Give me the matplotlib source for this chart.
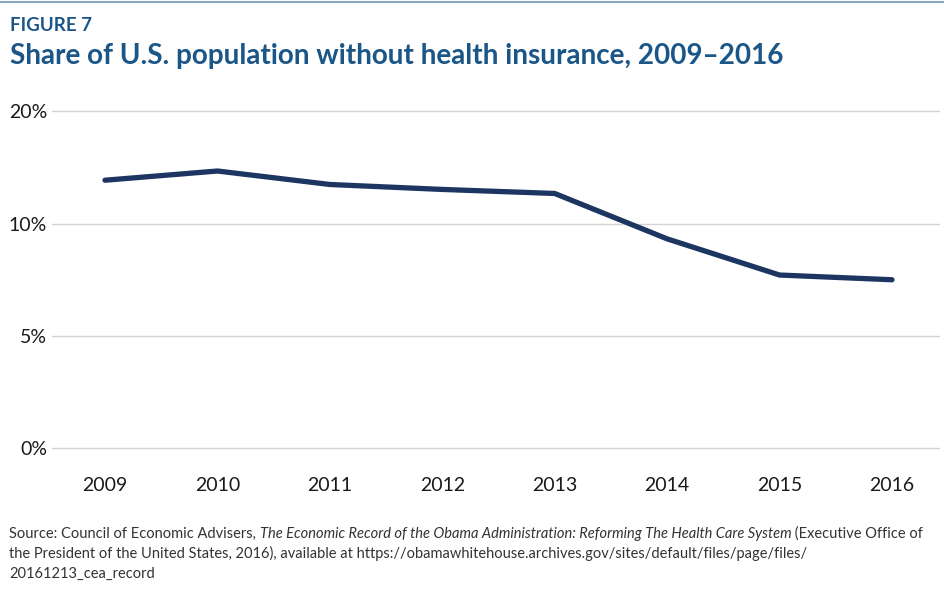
import matplotlib
matplotlib.use("Agg")
import matplotlib.pyplot as plt
from matplotlib.lines import Line2D

years = [2009, 2010, 2011, 2012, 2013, 2014, 2015, 2016]
uninsured = [11.93, 12.34, 11.74, 11.52, 11.34, 9.32, 7.71, 7.50]
ytick_pos = [0, 5, 10, 15]
ytick_labels = ["0%", "5%", "10%", "20%"]

# source note, split into (text, italic) runs per line
source_lines = [
    [("Source: Council of Economic Advisers, ", False),
     ("The Economic Record of the Obama Administration: Reforming The Health Care System", True),
     (" (Executive Office of", False)],
    [("the President of the United States, 2016), available at "
      "https://obamawhitehouse.archives.gov/sites/default/files/page/files/", False)],
    [("20161213_cea_record", False)],
]

title_blue = "#1b5688"
line_navy = "#1d3561"

plt.rcParams["font.family"] = ["Lato", "DejaVu Sans"]

fig = plt.figure(figsize=(9.44, 5.97), dpi=100)

# thin rule along the top edge
fig.add_artist(Line2D([0, 1], [0.9965, 0.9965], transform=fig.transFigure,
                      color="#8aa9c2", linewidth=1.5))

fig.text(10 / 944, 1 - 30.7 / 597, "FIGURE 7", color=title_blue, fontsize=13.5,
         fontweight="bold", va="baseline", ha="left")
fig.text(10 / 944, 1 - 64 / 597,
         "Share of U.S. population without health insurance, 2009\u20132016",
         color=title_blue, fontsize=20.1, fontweight="bold", va="baseline", ha="left")

# axes: bottom/top gridlines at 448 and 111 px, x from 52 to 940 px
ax = fig.add_axes([52 / 944, 1 - 455.0 / 597, 888 / 944, 350.5 / 597])
ax.plot(years, uninsured, color=line_navy, linewidth=3.8,
        solid_capstyle="round", solid_joinstyle="round", zorder=3)

ax.set_xlim(2009 - 53 / 112.43, 2016 + 48 / 112.43)
ax.set_ylim(-0.3, 15.3)
ax.set_xticks(years)
ax.set_xticklabels([str(y) for y in years])
ax.set_yticks(ytick_pos)
ax.set_yticklabels(ytick_labels)
ax.yaxis.grid(True, color="#d4d4d4", linewidth=1.0)
ax.set_axisbelow(True)
for s in ax.spines.values():
    s.set_visible(False)
ax.tick_params(axis="both", length=0, labelsize=14, colors="#1a1a1a")
ax.tick_params(axis="x", pad=16)
ax.tick_params(axis="y", pad=3.5)

# source note: lay out runs left to right, measuring each one
renderer = fig.canvas.get_renderer()
baselines = [538, 558, 578]
for runs, base in zip(source_lines, baselines):
    x = 9.0
    for txt, ital in runs:
        t = fig.text(x / 944, 1 - base / 597, txt, fontsize=10.5, color="#333333",
                     va="baseline", ha="left",
                     style="italic" if ital else "normal")
        x += t.get_window_extent(renderer).width

plt.savefig("out.png", dpi=100)
